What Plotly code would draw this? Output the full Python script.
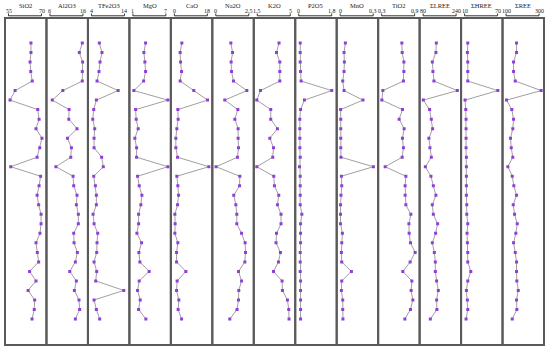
import plotly.graph_objects as go

rows = list(range(30))

names = ["SiO2", "Al2O3", "TFe2O3", "MgO", "CaO", "Na2O", "K2O", "P2O5", "MnO", "TiO2", "ΣLREE", "ΣHREE", "ΣREE"]
tick_min = [55, 6, 4, 1, 0, 0, 1.5, 0, 0, 0.3, 80, 10, 100]
tick_max = [70, 16, 14, 7, 18, 2.5, 5, 1.8, 0.3, 0.9, 240, 70, 300]
tick_min_text = ["55", "6", "4", "1", "0", "0", "1.5", "0", "0", "0.3", "80", "10", "100"]
tick_max_text = ["70", "16", "14", "7", "18", "2.5", "5", "1.8", "0.3", "0.9", "240", "70", "300"]

sio2 = [65.2, 65.2, 64.8, 65.1, 65.8, 58.0, 55.7, 68.3, 68.9, 67.5, 70.2, 69.2, 68.0, 56.0, 69.6,
        68.9, 68.0, 68.7, 69.8, 69.8, 69.3, 67.5, 68.1, 68.7, 64.6, 67.5, 63.9, 66.9, 66.7, 65.7]
al2o3 = [15.8, 14.9, 15.9, 15.8, 15.8, 9.9, 6.7, 11.8, 11.7, 14.2, 11.3, 12.5, 12.3, 7.8, 13.0,
         13.2, 14.2, 14.0, 14.6, 14.6, 13.2, 13.3, 14.3, 13.7, 12.0, 14.0, 13.4, 14.8, 15.0, 13.7]
tfe2o3 = [6.4, 7.2, 6.6, 6.3, 5.7, 12.1, 5.5, 4.7, 4.4, 5.0, 4.8, 4.8, 7.1, 7.6, 4.7,
          5.2, 5.5, 5.5, 4.5, 4.8, 5.9, 5.7, 5.6, 4.8, 5.6, 5.3, 13.8, 4.8, 5.5, 6.5]
mgo = [3.31, 3.0, 3.18, 3.31, 2.95, 1.18, 7.36, 1.49, 1.6, 1.96, 1.36, 1.67, 1.67, 7.36, 1.85,
       2.15, 2.64, 2.45, 2.04, 2.04, 1.73, 2.58, 2.09, 2.27, 3.96, 2.15, 1.85, 2.33, 2.04, 3.36]
cao = [4.09, 3.16, 3.38, 3.93, 3.16, 10.6, 18.1, 1.91, 2.07, 1.36, 0.82, 0.82, 1.75, 18.8, 1.36,
       1.91, 2.29, 1.75, 0.27, 0.44, 0.27, 1.91, 1.2, 1.2, 6.27, 1.53, 1.2, 2.45, 2.07, 3.93]
na2o = [1.14, 1.27, 1.16, 1.19, 1.34, 2.35, 0.68, 1.67, 1.44, 1.69, 1.69, 1.72, 1.64, 0.02, 1.82,
        1.80, 1.36, 1.52, 1.59, 1.59, 1.95, 2.22, 2.25, 2.20, 1.72, 1.95, 1.74, 1.72, 1.61, 1.06]
k2o = [3.81, 3.54, 3.89, 3.89, 3.89, 1.84, 1.45, 2.93, 2.93, 3.64, 2.83, 3.22, 3.14, 1.45, 3.25,
       3.32, 3.78, 3.64, 4.02, 4.02, 3.54, 3.49, 3.96, 3.75, 3.22, 4.13, 4.17, 4.70, 4.84, 4.87]
p2o5 = [0.08, 0.08, 0.08, 0.1, 0.13, 1.8, 0.31, 0.1, 0.06, 0.06, 0.06, 0.06, 0.08, 0.04, 0.08,
        0.08, 0.08, 0.08, 0.17, 0.1, 0.1, 0.1, 0.08, 0.08, 0.08, 0.1, 0.1, 0.1, 0.1, 0.1]
mno = [0.047, 0.035, 0.038, 0.035, 0.023, 0.035, 0.207, 0.004, 0.005, 0.005, 0.005, 0.005, 0.007, 0.302, 0.011,
       0.014, 0.007, 0.003, 0.003, 0.003, 0.02, 0.014, 0.011, 0.014, 0.102, 0.014, 0.011, 0.023, 0.023, 0.025]
tio2 = [0.667, 0.673, 0.704, 0.704, 0.696, 0.322, 0.304, 0.678, 0.618, 0.709, 0.678, 0.696, 0.673, 0.364, 0.74,
        0.727, 0.727, 0.74, 0.831, 0.795, 0.80, 0.824, 0.909, 0.818, 0.685, 0.849, 0.836, 0.867, 0.824, 0.722]
lree = [144, 142, 124.6, 127.5, 132.4, 245.8, 81, 111.5, 119.8, 126, 108, 113, 119.8, 90.7, 117.8,
        129.5, 142, 124.6, 129.5, 150.3, 140.6, 124.6, 134.3, 139.2, 139.2, 145.5, 153.7, 145.5, 146.9, 114.9]
hree = [15.8, 15.1, 15.8, 15.8, 15.8, 70.4, 10.9, 12.2, 12.7, 12.7, 12.7, 12.7, 13.3, 13.3, 13.3,
        13.3, 13.3, 14.0, 14.0, 15.8, 14.5, 15.1, 15.8, 15.8, 21.3, 15.8, 13.3, 15.1, 15.8, 12.7]
ree = [163.6, 163.6, 145.5, 145.5, 155.8, 313, 103, 135, 145.5, 141, 127, 131.5, 141, 111, 137.6,
       147.3, 163.6, 143.6, 151.5, 168, 159.4, 145.5, 155.8, 163.6, 163.6, 165.5, 174, 163.6, 165.5, 137.6]

series = [sio2, al2o3, tfe2o3, mgo, cao, na2o, k2o, p2o5, mno, tio2, lree, hree, ree]

W, H = 550, 349
ML, MR, MT, MB = 5, 6, 18, 4
plot_w = W - ML - MR
plot_h = H - MT - MB
n = len(names)
pw = plot_w / n
left_pad, span_px = 3.5, 33.0

def py(px):  # pixels above plot top -> paper y
    return 1 + px / plot_h

fig = go.Figure()
shapes = []
annotations = []
for i, (name, vals) in enumerate(zip(names, series)):
    ax = "" if i == 0 else str(i + 1)
    lo_v, hi_v = tick_min[i], tick_max[i]
    scale = (hi_v - lo_v) / span_px
    rng = [lo_v - left_pad * scale, lo_v + (pw - left_pad) * scale]
    fig.add_trace(go.Scatter(
        x=vals, y=rows, xaxis="x" + ax, yaxis="y",
        mode="lines+markers",
        line=dict(color="#a0a0a0", width=1),
        marker=dict(symbol="square", size=3, color="#8e3fd6"),
        showlegend=False, hoverinfo="skip"))
    fig.layout["xaxis" + ax] = dict(
        domain=[i / n, (i + 1) / n], range=rng, anchor="y",
        showgrid=False, zeroline=False, showticklabels=False, ticks="", showline=False)
    shapes.append(dict(type="rect", xref="x" + ax + " domain", yref="paper",
                       x0=0, x1=1, y0=0, y1=1, line=dict(color="#5a5a5a", width=2)))
    yb = py(2.2)
    shapes.append(dict(type="line", xref="x" + ax, yref="paper", x0=lo_v, x1=hi_v, y0=yb, y1=yb,
                       line=dict(color="#333", width=1)))
    for xv in (lo_v, hi_v):
        shapes.append(dict(type="line", xref="x" + ax, yref="paper", x0=xv, x1=xv, y0=yb, y1=py(4.5),
                           line=dict(color="#333", width=1)))
    annotations.append(dict(text=tick_min_text[i], xref="x" + ax, yref="paper", x=lo_v, y=py(6.5),
                            showarrow=False, yanchor="middle", xanchor="center",
                            font=dict(family="Liberation Serif", size=6, color="#222")))
    annotations.append(dict(text=tick_max_text[i], xref="x" + ax, yref="paper", x=hi_v, y=py(6.5),
                            showarrow=False, yanchor="middle", xanchor="center",
                            font=dict(family="Liberation Serif", size=6, color="#222")))
    annotations.append(dict(text=name, xref="x" + ax + " domain", yref="paper", x=0.5, y=py(13),
                            showarrow=False, yanchor="middle", xanchor="center",
                            font=dict(family="Liberation Serif", size=6.5, color="#222")))

fig.update_layout(
    width=W, height=H,
    margin=dict(l=ML, r=MR, t=MT, b=MB),
    paper_bgcolor="white", plot_bgcolor="white",
    hovermode=False,
    yaxis=dict(range=[29 + 26 / 9.52, -25 / 9.52], showgrid=False, zeroline=False,
               showticklabels=False, ticks="", showline=False),
    shapes=shapes, annotations=annotations,
)
fig.write_html("out.html", config={"displayModeBar": False, "staticPlot": True},
               post_script="document.body.style.margin='0px';document.body.style.overflow='hidden';")
